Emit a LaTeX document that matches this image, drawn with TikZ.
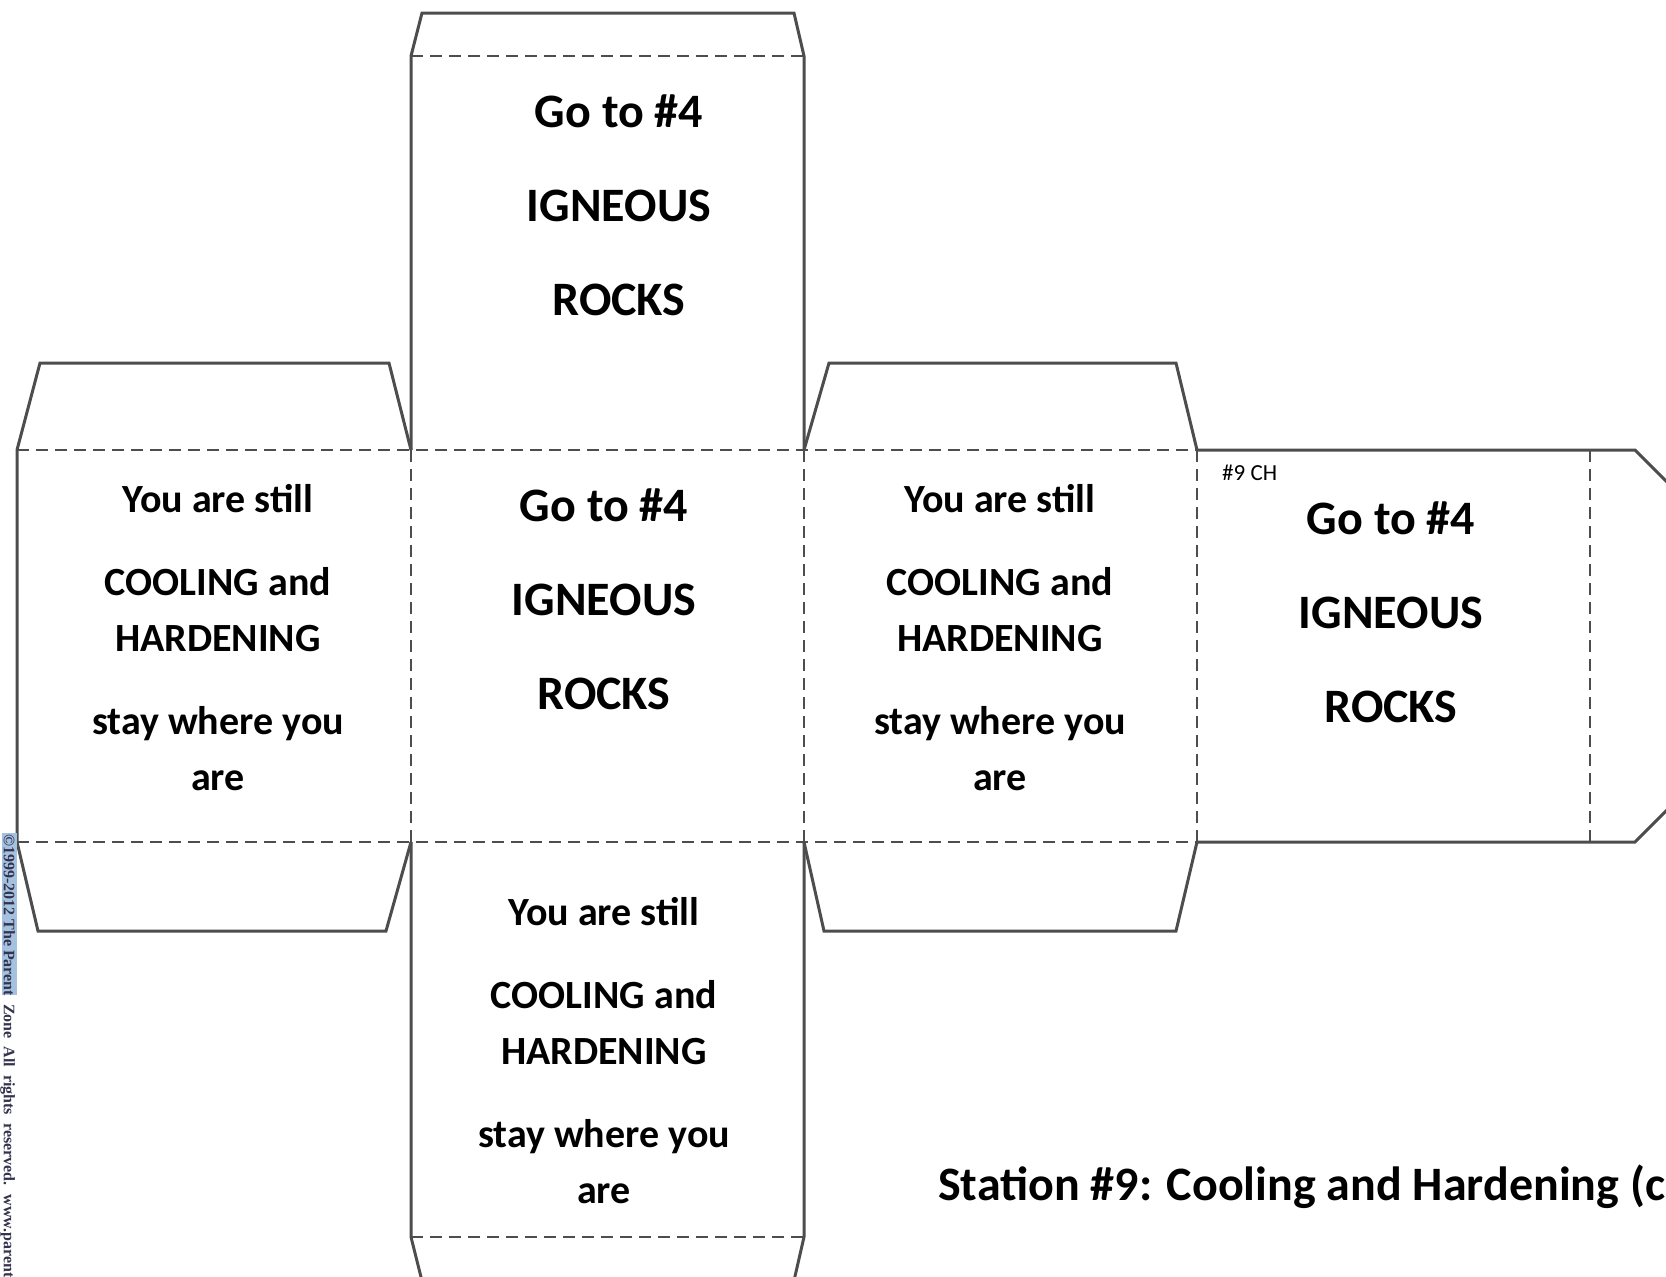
\documentclass[tikz,border=0pt]{standalone}
\usepackage{fontspec}
\setmainfont{Carlito}
\newfontfamily\notefont{Liberation Serif}
\usepackage{tikz}
\usetikzlibrary{positioning}
\definecolor{edge}{HTML}{4D4D4D}
\definecolor{hilite}{HTML}{A4C2E0}
\definecolor{noteink}{HTML}{33334D}

\tikzset{
  cut/.style={edge, line width=3pt, line join=miter},
  fold/.style={edge, line width=2.4pt, dash pattern=on 12pt off 7pt},
  % multi-line texts are anchored at the baseline of their last line
  gotext/.style={font=\bfseries\fontsize{48}{94}\selectfont, align=center, anchor=base, inner sep=0pt},
  stilltext/.style={font=\bfseries\fontsize{40}{56}\selectfont, align=center, anchor=base, inner sep=0pt},
}

\begin{document}
\begin{tikzpicture}[x=1pt, y=-1pt]
  \useasboundingbox (0,0) rectangle (1666,1277);
  \clip (0,0) rectangle (1666,1277);
  % top face with its flap
  \draw[cut] (411,450) -- (411,56) -- (422,13) -- (794,13) -- (804,56) -- (804,450);
  \draw[fold] (411,56) -- (804,56);
  % left face with its two flaps
  \draw[cut] (411,450) -- (389,363) -- (40,363) -- (17,450) -- (17,842) -- (38,931) -- (386,931) -- (411,842);
  % flaps of the right face
  \draw[cut] (804,450) -- (829,363) -- (1176,363) -- (1197,450);
  \draw[cut] (804,842) -- (824,931) -- (1176,931) -- (1197,842);
  % last face, closing flap runs off the page
  \draw[cut] (1197,450) -- (1635,450) -- (1715,530) -- (1715,762) -- (1635,842) -- (1197,842);
  % bottom face with its flap
  \draw[cut] (411,842) -- (411,1237) -- (423,1285) -- (793,1285) -- (804,1237) -- (804,842);
  \draw[fold] (411,1237) -- (804,1237);
  % fold lines of the middle row
  \draw[fold] (17,450) -- (1197,450);
  \draw[fold] (17,842) -- (1197,842);
  \draw[fold] (411,450) -- (411,842);
  \draw[fold] (804,450) -- (804,842);
  \draw[fold] (1197,450) -- (1197,842);
  \draw[fold] (1590,450) -- (1590,842);

  % face texts
  \node[gotext] (topface) at (619,315) {Go to \#4\\IGNEOUS\\ROCKS};
  \node[stilltext] (leftface) at (218,790) {You are still\\[27pt]COOLING and\\HARDENING\\[27pt]stay where you\\are};
  \node[gotext] (midface) at (604,709) {Go to \#4\\IGNEOUS\\ROCKS};
  \node[stilltext] (rightface) at (1000,790) {You are still\\[27pt]COOLING and\\HARDENING\\[27pt]stay where you\\are};
  \node[gotext] (endface) at (1391,722) {Go to \#4\\IGNEOUS\\ROCKS};
  \node[stilltext] (lowface) at (604,1203) {You are still\\[27pt]COOLING and\\HARDENING\\[27pt]stay where you\\are};
  \node[font=\fontsize{23}{23}\selectfont, anchor=base west, inner sep=0pt] (tag) at (1222,480) {\#9 CH};

  % title, cut by the page edge
  \node[font=\bfseries\fontsize{48}{58}\selectfont, anchor=base west, inner sep=0pt] (title) at (938,1200) {Station \#9: Cooling and Hardening (c};

  % copyright strip on the left edge
  \fill[hilite] (2,833) rectangle (17,995);
  \node[font=\notefont\bfseries\fontsize{16}{16}\selectfont, text=noteink, rotate=-90, anchor=base west, inner sep=0pt] (copy) at (4,834) {©1999-2012 The Parent \ Zone \ All \ rights \ reserved. \ www.parent};
\end{tikzpicture}
\end{document}
